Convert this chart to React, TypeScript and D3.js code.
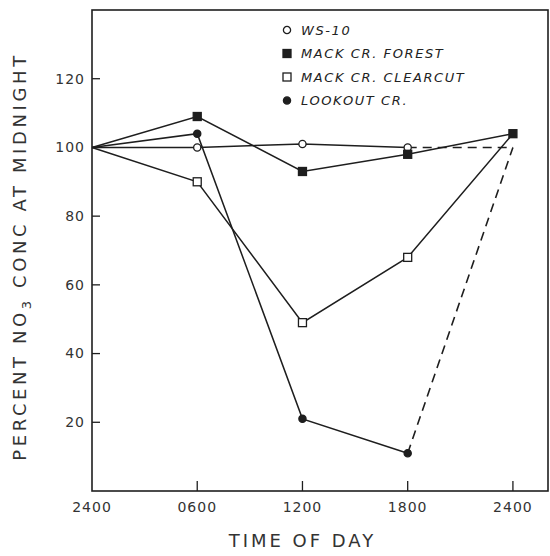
import React from 'react';
import * as d3 from 'd3';

// time of day in hours after midnight
const hours = [0, 6, 12, 18, 24];
const xTickLabels = ['2400', '0600', '1200', '1800', '2400'];
const yTicks = [20, 40, 60, 80, 100, 120];

const ws10 = [100, 100, 101, 100, 100];
const mackForest = [100, 109, 93, 98, 104];
const mackClearcut = [100, 90, 49, 68, 104];
const lookout = [100, 104, 21, 11, 100];

const legendLabels = ['WS-10', 'MACK CR. FOREST', 'MACK CR. CLEARCUT', 'LOOKOUT CR.'];

const W = 550;
const H = 556;
const left = 92, right = 548, top = 10, bottom = 491;
const ink = '#1e1e1e';
const font = '"DejaVu Sans", Verdana, sans-serif';

type Series = {
  values: number[];
  marker: 'circleOpen' | 'squareFilled' | 'squareOpen' | 'circleFilled';
  markAt: number[];
  dashedLast: boolean;
};

const series: Series[] = [
  { values: ws10, marker: 'circleOpen', markAt: [1, 2, 3], dashedLast: true },
  { values: mackForest, marker: 'squareFilled', markAt: [1, 2, 3, 4], dashedLast: false },
  { values: mackClearcut, marker: 'squareOpen', markAt: [1, 2, 3], dashedLast: false },
  { values: lookout, marker: 'circleFilled', markAt: [1, 2, 3], dashedLast: true },
];

function Marker({ type, x, y }: { type: Series['marker']; x: number; y: number }) {
  if (type === 'circleOpen' || type === 'circleFilled') {
    return (
      <circle cx={x} cy={y} r={3.6} fill={type === 'circleFilled' ? ink : '#fff'}
        stroke={ink} strokeWidth={1.3} />
    );
  }
  return (
    <rect x={x - 4} y={y - 4} width={8} height={8}
      fill={type === 'squareFilled' ? ink : '#fff'} stroke={ink} strokeWidth={1.3} />
  );
}

export default function App() {
  const x = d3.scaleLinear().domain([0, 26]).range([left, right]);
  const y = d3.scaleLinear().domain([0, 140]).range([bottom, top]);
  const line = d3.line<number>().x((_, i) => x(hours[i])).y(d => y(d));

  return (
    <svg width={W} height={H} style={{ position: 'absolute', left: 0, top: 0, background: '#fff' }}>
      <rect x={left} y={top} width={right - left} height={bottom - top}
        fill="none" stroke={ink} strokeWidth={1.6} />

      {yTicks.map(t => (
        <g key={t}>
          <line x1={left} x2={left + 8} y1={y(t)} y2={y(t)} stroke={ink} strokeWidth={1.3} />
          <text x={left - 7} y={y(t)} dy="0.35em" textAnchor="end" fontFamily={font}
            fontSize={14} letterSpacing={1} fill="#333">{t}</text>
        </g>
      ))}

      {hours.map((h, i) => (
        <g key={i}>
          {i > 0 && <line x1={x(h)} x2={x(h)} y1={bottom} y2={bottom - 10} stroke={ink} strokeWidth={1.3} />}
          <text x={x(h)} y={bottom + 21} textAnchor="middle" fontFamily={font}
            fontSize={14} letterSpacing={1} fill="#333">{xTickLabels[i]}</text>
        </g>
      ))}

      <text x={x(12)} y={547} textAnchor="middle" fontFamily={font} fontSize={18}
        letterSpacing={3} fill="#333">TIME OF DAY</text>

      <text transform={`translate(26, ${(top + bottom) / 2 + 6}) rotate(-90)`} textAnchor="middle"
        fontFamily={font} fontSize={18} letterSpacing={3.6} fill="#333">
        PERCENT NO<tspan fontSize={13} dy={5}>3</tspan><tspan dy={-5}> CONC AT MIDNIGHT</tspan>
      </text>

      {series.map((s, k) => {
        const solid = s.dashedLast ? s.values.slice(0, -1) : s.values;
        const n = s.values.length;
        return (
          <g key={k}>
            <path d={line(solid) || ''} fill="none" stroke={ink} strokeWidth={1.5} />
            {s.dashedLast && (
              <line x1={x(hours[n - 2])} y1={y(s.values[n - 2])} x2={x(hours[n - 1])}
                y2={y(s.values[n - 1])} stroke={ink} strokeWidth={1.6} strokeDasharray="9,6" />
            )}
          </g>
        );
      })}

      {series.map((s, k) => (
        <g key={k}>
          {s.markAt.map(i => (
            <Marker key={i} type={s.marker} x={x(hours[i])} y={y(s.values[i])} />
          ))}
        </g>
      ))}

      {legendLabels.map((lab, i) => (
        <g key={lab} transform={`translate(287, ${30 + i * 23.5})`}>
          <Marker type={series[i].marker} x={0} y={0} />
          <text x={14} y={0} dy="0.36em" fontFamily={font} fontStyle="italic" fontSize={13}
            letterSpacing={1.6} fill="#222">{lab}</text>
        </g>
      ))}
    </svg>
  );
}
